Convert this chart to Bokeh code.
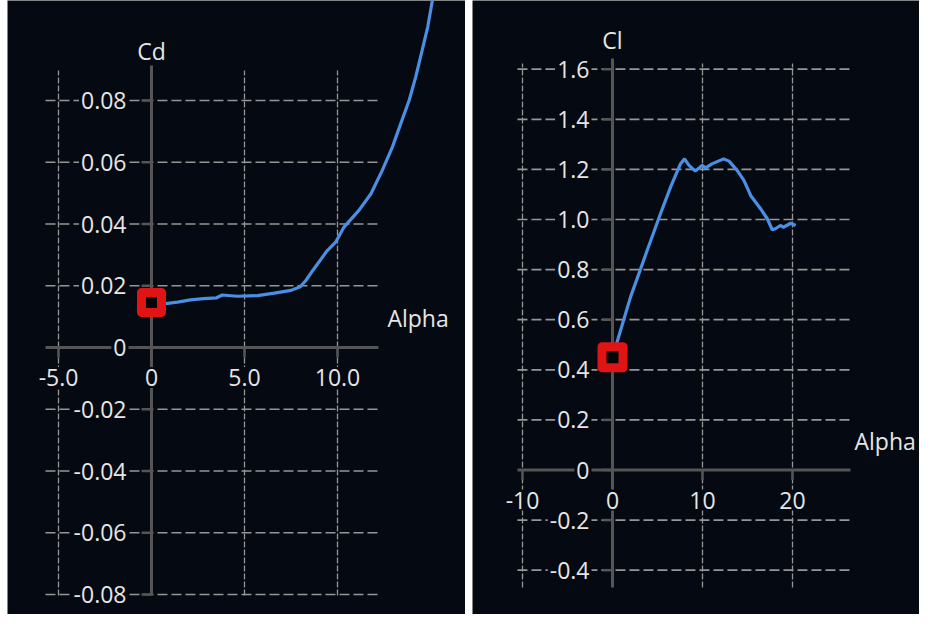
from bokeh.plotting import figure
from bokeh.models import ColumnDataSource, Range1d, Spacer
from bokeh.layouts import row
from bokeh.core.properties import value
from bokeh.embed import file_html
from bokeh.resources import INLINE

# ---------------- data ----------------
cd_alpha = [0.0, 0.75, 1.4, 2.1, 2.8, 3.5, 3.8, 4.6, 5.7, 6.6, 7.5, 8.0, 8.3, 8.7,
            9.45, 9.9, 10.35, 11.15, 11.8, 12.4, 12.95, 13.4, 13.85, 14.2, 14.55, 14.85, 15.1]
cd_values = [0.0146, 0.0142, 0.0147, 0.0154, 0.0158, 0.0161, 0.0170, 0.0166, 0.0168, 0.0176,
             0.0185, 0.0197, 0.0217, 0.0252, 0.0314, 0.0341, 0.0390, 0.0444, 0.0498, 0.0573,
             0.0649, 0.0725, 0.0800, 0.0875, 0.0962, 0.1038, 0.1124]

cl_alpha = [0.0, 0.5, 2.0, 3.85, 5.33, 6.45, 7.55, 8.0, 8.5, 9.2, 9.95, 10.35, 11.05, 12.35,
            12.95, 13.85, 14.6, 15.35, 16.45, 17.2, 17.75, 18.1, 18.65, 19.0, 19.8, 20.35]
cl_values = [0.45, 0.51, 0.69, 0.876, 1.023, 1.129, 1.222, 1.242, 1.216, 1.193, 1.216, 1.206,
             1.222, 1.242, 1.233, 1.196, 1.156, 1.096, 1.043, 1.003, 0.959, 0.963, 0.976,
             0.969, 0.985, 0.976]

cd_xticks = [-5.0, 0.0, 5.0, 10.0]
cd_xtick_labels = ["-5.0", "0", "5.0", "10.0"]
cd_yticks = [-0.08, -0.06, -0.04, -0.02, 0.0, 0.02, 0.04, 0.06, 0.08]
cd_ytick_labels = ["-0.08", "-0.06", "-0.04", "-0.02", "0", "0.02", "0.04", "0.06", "0.08"]

cl_xticks = [-10.0, 0.0, 10.0, 20.0]
cl_xtick_labels = ["-10", "0", "10", "20"]
cl_yticks = [-0.4, -0.2, 0.0, 0.2, 0.4, 0.6, 0.8, 1.0, 1.2, 1.4, 1.6]
cl_ytick_labels = ["-0.4", "-0.2", "0", "0.2", "0.4", "0.6", "0.8", "1.0", "1.2", "1.4", "1.6"]

# ---------------- style ----------------
BG = "#050911"
GRID = "#969696"
AXIS = "#555555"
TEXT = "#e6e6e6"
CURVE = "#4a8fe4"
RED = "#e01414"
FONT = value("Open Sans")
FS = "23px"
H = 614


def make_panel(w, xr, yr, xb, yb, xticks, xlabels, yticks, ylabels,
               ytitle, ylab_off, title_off, alpha_off, xs, ys):
    # xs, ys: pixels per data unit
    p = figure(width=w, height=H, x_range=Range1d(*xr), y_range=Range1d(*yr),
               output_backend="svg", toolbar_location=None,
               x_axis_location=None, y_axis_location=None, min_border=0)
    p.grid.visible = False
    p.outline_line_color = None
    p.background_fill_color = BG
    p.border_fill_color = BG

    # horizontal grid lines
    hy = [t for t in yticks if t != 0]
    p.segment(x0=[xb[0]] * len(hy), x1=[xb[1]] * len(hy), y0=hy, y1=hy,
              line_color=GRID, line_width=1.7, line_dash="10 4")
    # vertical grid lines
    vx = [t for t in xticks if t != 0]
    p.segment(x0=vx, x1=vx, y0=[yb[0]] * len(vx), y1=[yb[1] - 5 / ys] * len(vx),
              line_color=GRID, line_width=1.3, line_dash="6 2")

    # tick stubs
    p.segment(x0=[0] * len(yticks), x1=[-10 / xs] * len(yticks), y0=yticks, y1=yticks,
              line_color=AXIS, line_width=2.5)
    p.segment(x0=xticks, x1=xticks, y0=[0] * len(xticks), y1=[-10 / ys] * len(xticks),
              line_color=AXIS, line_width=2.5)

    # axis lines
    p.segment(x0=[0], x1=[0], y0=[yb[0]], y1=[yb[1]], line_color=AXIS, line_width=3)
    p.segment(x0=[xb[0]], x1=[xb[1]], y0=[0], y1=[0], line_color=AXIS, line_width=3)

    # tick labels
    ysrc = ColumnDataSource(dict(x=[0] * len(yticks), y=yticks, t=ylabels))
    p.text(x="x", y="y", text="t", source=ysrc, x_offset=ylab_off,
           text_align="right", text_baseline="middle", text_font=FONT,
           text_font_size=FS, text_color=TEXT, background_fill_color=BG, padding=2)
    xsrc = ColumnDataSource(dict(x=xticks, y=[0] * len(xticks), t=xlabels))
    p.text(x="x", y="y", text="t", source=xsrc, y_offset=30,
           text_align="center", text_baseline="middle", text_font=FONT,
           text_font_size=FS, text_color=TEXT, background_fill_color=BG, padding=2)

    # axis titles
    p.text(x=[0], y=[yb[1]], text=[ytitle], y_offset=title_off,
           text_align="center", text_baseline="middle", text_font=FONT,
           text_font_size=FS, text_color=TEXT)
    p.text(x=[xb[1]], y=[0], text=["Alpha"], x_offset=alpha_off[0], y_offset=alpha_off[1],
           text_align="left", text_baseline="middle", text_font=FONT,
           text_font_size=FS, text_color=TEXT)
    return p


# left panel: Cd vs Alpha  (panel spans page x 7..465)
xs_l, ys_l = 18.6, 3087.5
WL = 458
left = make_panel(WL, (-144 / xs_l, -144 / xs_l + WL / xs_l),
                  (347 / ys_l - H / ys_l, 347 / ys_l),
                  (-5.70, 12.2), (-0.0803, 0.0913),
                  cd_xticks, cd_xtick_labels, cd_yticks, cd_ytick_labels,
                  "Cd", -23, -15, (9, -30), xs_l, ys_l)
left.line(cd_alpha, cd_values, line_color=CURVE, line_width=3.2)
left.scatter([cd_alpha[0]], [cd_values[0]], marker="square", size=20,
             line_color=RED, line_width=9, fill_color="#050505", line_join="round")

# right panel: Cl vs Alpha  (panel spans page x 472..919)
xs_r, ys_r = 9.0, 250.5
WR = 447
right = make_panel(WR, (-140 / xs_r, -140 / xs_r + WR / xs_r),
                   (469.5 / ys_r - H / ys_r, 469.5 / ys_r),
                   (-10.56, 26.44), (-0.469, 1.643),
                   cl_xticks, cl_xtick_labels, cl_yticks, cl_ytick_labels,
                   "Cl", -21, -18, (4, -29), xs_r, ys_r)
right.line(cl_alpha, cl_values, line_color=CURVE, line_width=3.2)
right.scatter([cl_alpha[0]], [cl_values[0]], marker="square", size=21,
              line_color=RED, line_width=9, fill_color="#050505", line_join="round")

layout = row(Spacer(width=7, height=H), left, Spacer(width=7, height=H), right)
open("out.html", "w").write(file_html(layout, INLINE))
